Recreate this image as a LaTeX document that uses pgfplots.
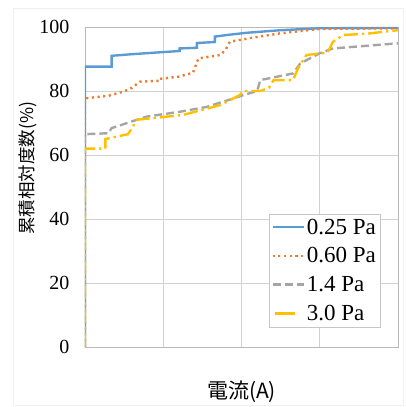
\documentclass[border=0pt]{standalone}
\usepackage{fontspec}
\setmainfont{Liberation Serif}
\newfontfamily\cjk{Noto Sans CJK JP}
\usepackage{pgfplots}
\pgfplotsset{compat=1.18}
\pgfplotsset{solidlegend/.style={legend image code/.code={\draw[##1, solid] (2bp,0bp) -- (22bp,0bp);}}}
\definecolor{cblue}{HTML}{5B9BD5}
\definecolor{corange}{HTML}{ED7D31}
\definecolor{cgray}{HTML}{A5A5A5}
\definecolor{cyellow}{HTML}{FFC000}
\begin{document}
\begin{tikzpicture}
\useasboundingbox (-85bp,-60bp) rectangle (321bp,347bp);
\draw[gray!12] (-72bp,-58bp) rectangle (318bp,339bp);
\begin{axis}[
  scale only axis,
  width=313bp, height=320bp,
  xmin=0, xmax=4, ymin=0, ymax=100,
  xtick={0,1,2,3,4}, xticklabels={},
  ytick={0,20,40,60,80,100},
  major tick length=0pt,
  grid=major,
  grid style={gray!35, line width=0.7pt},
  axis line style={gray!55, line width=0.7pt},
  tick label style={font=\fontsize{20bp}{23bp}\selectfont},
  /pgf/number format/assume math mode=true,
  yticklabel style={xshift=-12bp},
  xlabel={\cjk\fontsize{21bp}{24bp}\selectfont 電流(A)},
  xlabel style={at={(axis description cs:0.5,-0.141)}, anchor=center},
  ylabel={\cjk\fontsize{17.5bp}{20bp}\selectfont 累積相対度数(\%)},
  ylabel style={at={(axis description cs:-0.182,0.559)}, anchor=center},
  legend style={at={(0.9425,0.0625)}, anchor=south east,
    font=\fontsize{23bp}{26bp}\selectfont, draw=gray!45, fill=white,
    inner xsep=2bp, inner ysep=3bp, row sep=8bp,
    /tikz/every even column/.append style={column sep=0bp}},
  legend cell align=left,
  legend image code/.code={\draw[#1] (0bp,0bp) -- (31bp,0bp);},
]
\addplot[cblue, line width=2.4pt] coordinates {
(0,0)(0,87.6)(0.34,87.6)(0.34,91)(0.6,91.5)(0.9,92)(1.21,92.5)(1.21,93.3)(1.43,93.5)(1.43,95)(1.66,95.3)(1.66,97)(1.85,97.6)(2.07,98.2)(2.5,99)(3.0,99.6)(4,99.7)};
\addlegendentry{0.25 Pa}
\addplot[corange, line width=2.4pt, dash pattern=on 2.2pt off 3.5pt] coordinates {
(0,0)(0,77.7)(0.3,78.5)(0.49,79.8)(0.6,81)(0.7,82.9)(0.96,83.2)(0.96,83.8)(1.2,84.5)(1.38,85.7)(1.45,90.2)(1.73,91.25)(1.8,93)(1.85,95.4)(2.1,96.5)(2.49,98)(3.0,99.4)(4,99.6)};
\addlegendentry{0.60 Pa}
\addplot[cgray, line width=2.4pt, dash pattern=on 8pt off 4pt] coordinates {
(0,0)(0,66.5)(0.3,66.8)(0.34,68.4)(0.6,70.5)(0.79,72)(1.21,73.5)(1.55,75)(1.9,77.7)(2.02,78.7)(2.2,80)(2.24,83.4)(2.66,85.5)(2.75,88.6)(3.0,91.8)(3.17,93.3)(4,94.9)};
\addlegendentry{1.4 Pa}
\addplot[cyellow, line width=2.4pt, dash pattern=on 14pt off 4pt on 2.4pt off 4pt, solidlegend] coordinates {
(0,0)(0,62)(0.26,62)(0.26,65)(0.55,66.5)(0.61,68.8)(0.66,71)(1.25,72.5)(1.73,75.6)(1.98,78.75)(2.02,80)(2.24,80)(2.35,81)(2.41,83.4)(2.66,83.4)(2.72,87)(2.83,91.25)(3.1,92)(3.17,95.4)(3.3,97.5)(3.6,97.9)(4,99)};
\addlegendentry{3.0 Pa}
\end{axis}
\end{tikzpicture}
\end{document}
